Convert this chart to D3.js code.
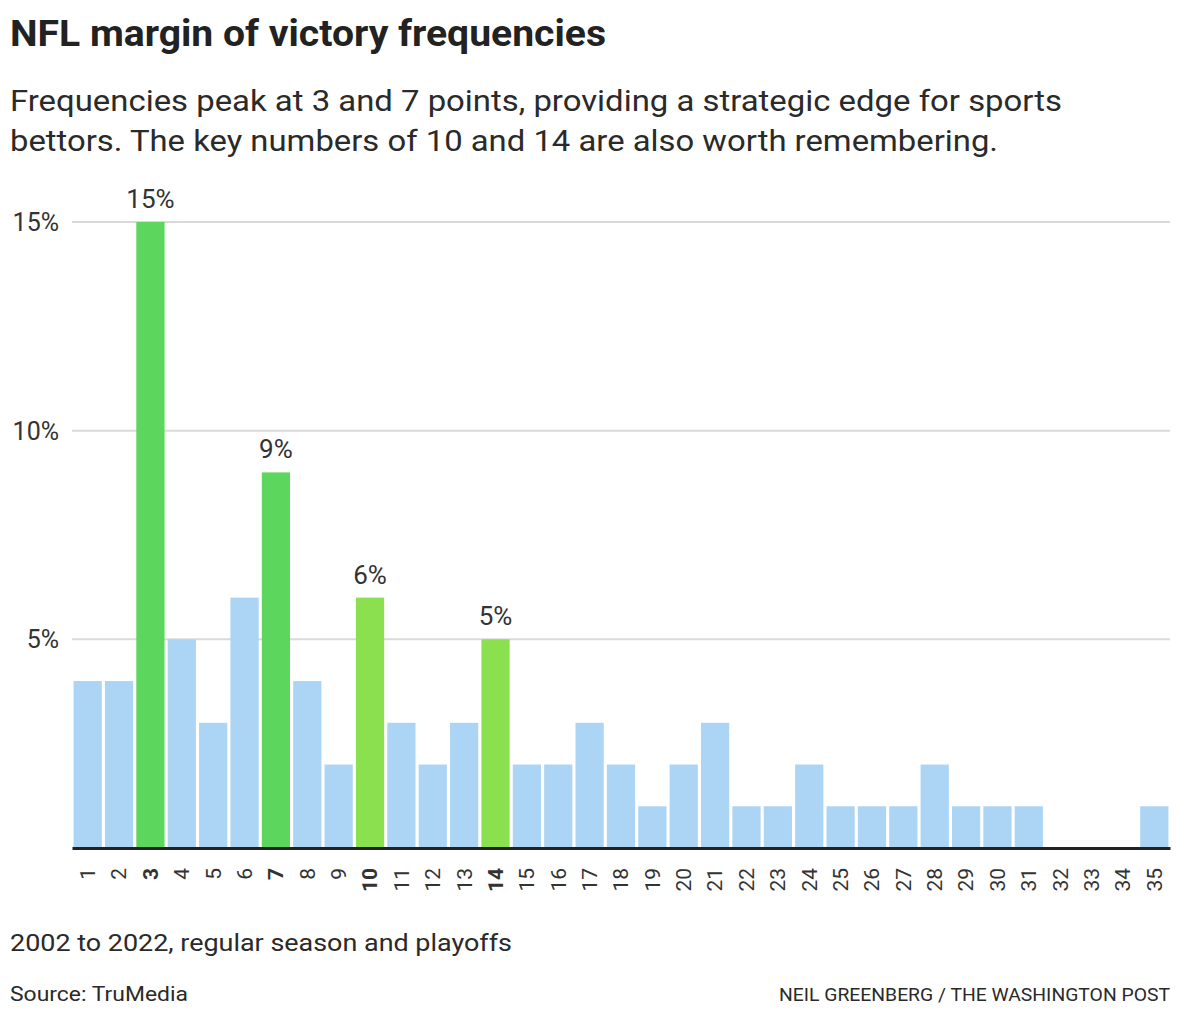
<!DOCTYPE html>
<html><head><meta charset="utf-8">
<script src="https://cdn.jsdelivr.net/npm/d3@7"></script>
<style>
body{margin:0;background:#fff;}
svg{display:block;font-family:Roboto,"Liberation Sans",sans-serif;}
</style></head><body>
<svg id="chart" width="1180" height="1020"></svg>
<script>
const margins = ["1","2","3","4","5","6","7","8","9","10","11","12","13","14","15","16","17","18","19","20","21","22","23","24","25","26","27","28","29","30","31","32","33","34","35"];
const frequencies = [4,4,15,5,3,6,9,4,2,6,3,2,3,5,2,2,3,2,1,2,3,1,1,2,1,1,1,2,1,1,1,0,0,0,1];
const peakNumbers = ["3","7"];
const keyNumbers = ["10","14"];
const yTicks = [5,10,15];

(function(){
const svg = d3.select("#chart");
const pLeft = 72, pRight = 1170, pTop = 222, pBottom = 848;

const x = d3.scaleBand().domain(margins).range([pLeft, pRight]).paddingInner(0.1).paddingOuter(0.05);
const y = d3.scaleLinear().domain([0, 15]).range([pBottom, pTop]);

svg.append("text").attr("x", 10).attr("y", 46).attr("font-size", 36).attr("font-weight", 700)
  .attr("fill", "#222").attr("textLength", 596).attr("lengthAdjust", "spacingAndGlyphs")
  .text("NFL margin of victory frequencies");
const sub = svg.append("text").attr("font-size", 29).attr("fill", "#2a2a2a");
sub.append("tspan").attr("x", 10).attr("y", 111).attr("textLength", 1052).attr("lengthAdjust", "spacingAndGlyphs")
  .text("Frequencies peak at 3 and 7 points, providing a strategic edge for sports");
sub.append("tspan").attr("x", 10).attr("y", 151).attr("textLength", 988).attr("lengthAdjust", "spacingAndGlyphs")
  .text("bettors. The key numbers of 10 and 14 are also worth remembering.");

svg.append("g").selectAll("line").data(yTicks).join("line")
  .attr("x1", pLeft).attr("x2", pRight)
  .attr("y1", d => y(d)).attr("y2", d => y(d))
  .attr("stroke", "#dadada").attr("stroke-width", 2);

svg.append("g").selectAll("text").data(yTicks).join("text")
  .attr("x", 59).attr("y", d => y(d) + 9).attr("text-anchor", "end")
  .attr("font-size", 25).attr("fill", "#333").text(d => d + "%");

const color = d => peakNumbers.includes(d) ? "#5cd65c" : keyNumbers.includes(d) ? "#8ae04e" : "#acd5f5";
svg.append("g").selectAll("rect").data(margins).join("rect")
  .attr("x", d => x(d)).attr("width", x.bandwidth())
  .attr("y", (d, i) => y(frequencies[i]))
  .attr("height", (d, i) => pBottom - y(frequencies[i]))
  .attr("fill", color);

const labeled = margins.filter(d => peakNumbers.includes(d) || keyNumbers.includes(d));
svg.append("g").selectAll("text").data(labeled).join("text")
  .attr("x", d => x(d) + x.bandwidth() / 2)
  .attr("y", d => y(frequencies[margins.indexOf(d)]) - 14)
  .attr("text-anchor", "middle").attr("font-size", 26).attr("fill", "#333")
  .text(d => frequencies[margins.indexOf(d)] + "%");

const xAxis = svg.append("g").attr("transform", `translate(0,${pBottom})`)
  .call(d3.axisBottom(x).tickSize(0).tickPadding(0));
xAxis.select(".domain").attr("stroke", "#222").attr("stroke-width", 3);
xAxis.selectAll(".tick text")
  .attr("transform", "rotate(-90)")
  .attr("x", -20).attr("y", 0).attr("dy", "0.35em")
  .attr("text-anchor", "end")
  .attr("font-size", 21).attr("font-family", "Roboto, sans-serif").attr("fill", "#333")
  .attr("font-weight", d => (peakNumbers.includes(d) || keyNumbers.includes(d)) ? 700 : 400);

svg.append("text").attr("x", 10).attr("y", 951).attr("font-size", 23).attr("fill", "#2a2a2a")
  .attr("textLength", 502).attr("lengthAdjust", "spacingAndGlyphs")
  .text("2002 to 2022, regular season and playoffs");
svg.append("text").attr("x", 10).attr("y", 1001).attr("font-size", 21).attr("fill", "#2a2a2a")
  .attr("textLength", 178).attr("lengthAdjust", "spacingAndGlyphs")
  .text("Source: TruMedia");
svg.append("text").attr("x", 779).attr("y", 1001).attr("font-size", 19)
  .attr("textLength", 391).attr("lengthAdjust", "spacingAndGlyphs")
  .attr("fill", "#2a2a2a").text("NEIL GREENBERG / THE WASHINGTON POST");
})();
</script>
</body></html>
